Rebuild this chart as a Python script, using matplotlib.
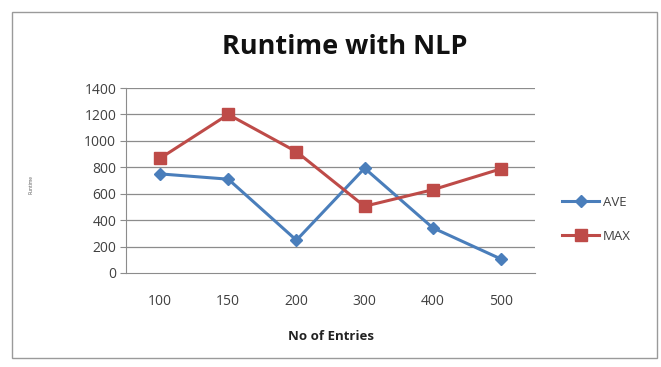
import matplotlib
matplotlib.use("Agg")
import matplotlib.pyplot as plt
from matplotlib.patches import Rectangle

categories = ["100", "150", "200", "300", "400", "500"]
ave = [750, 710, 248, 793, 342, 106]
max_vals = [868, 1200, 918, 505, 630, 788]
y_ticks = [0, 200, 400, 600, 800, 1000, 1200, 1400]

plt.rcParams["font.family"] = ["Open Sans", "DejaVu Sans"]

fig = plt.figure(figsize=(6.61, 3.67), dpi=100)
fig.patch.set_facecolor("white")

# outer chart border
fig.add_artist(Rectangle((12 / 661, 1 - 358 / 367), 645 / 661, 346 / 367,
                         transform=fig.transFigure, fill=False,
                         edgecolor="#9a9a9a", lw=1.0))

ax = fig.add_axes([126 / 661, 94 / 367, 409 / 661, 185 / 367])
x = list(range(len(categories)))

for y in y_ticks[1:]:
    ax.axhline(y, color="#8c8c8c", lw=0.9, zorder=1)

ax.plot(x, ave, color="#4A7EBB", lw=2.2, marker="D", markersize=6.5,
        markerfacecolor="#4A7EBB", markeredgecolor="#4A7EBB", label="AVE", zorder=3)
ax.plot(x, max_vals, color="#BE4B48", lw=2.2, marker="s", markersize=8,
        markerfacecolor="#BE4B48", markeredgecolor="#BE4B48", label="MAX", zorder=3)

ax.set_xlim(-0.5, len(categories) - 0.5)
ax.set_ylim(0, 1400)
ax.set_yticks(y_ticks)
ax.set_xticks(x)
ax.set_xticklabels(categories)
ax.tick_params(axis="y", length=4, color="#8c8c8c", labelsize=10,
               labelcolor="#404040", pad=3)
ax.tick_params(axis="x", length=0, labelsize=10, labelcolor="#404040", pad=15)

for side in ["top", "right"]:
    ax.spines[side].set_visible(False)
ax.spines["left"].set_color("#8c8c8c")
ax.spines["bottom"].set_color("#8c8c8c")

ax.set_xlabel("No of Entries", fontsize=9.5, fontweight="bold",
              color="#222222", labelpad=15)

fig.text(345 / 661, 1 - 47 / 367, "Runtime with NLP", ha="center", va="center",
         fontsize=19.5, fontweight="bold", color="#111111")

fig.text(31 / 661, 1 - 184 / 367, "Runtime", rotation=90, ha="center",
         va="center", fontsize=3.5, color="#555555")

ax.legend(loc="center left", bbox_to_anchor=(1.05, 0.29), frameon=False,
          fontsize=9.5, labelcolor="#404040", handlelength=2.8,
          labelspacing=1.6, handletextpad=0.3, borderpad=0)

fig.savefig("out.png", dpi=100)
